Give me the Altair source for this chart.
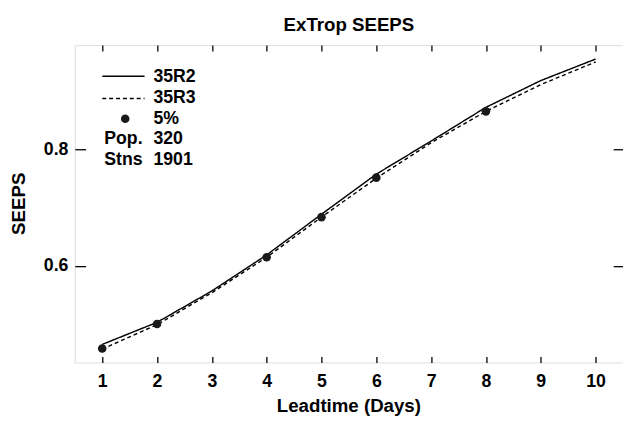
import altair as alt
import pandas as pd

# ---- data ----
days = [1, 2, 3, 4, 5, 6, 7, 8, 9, 10]
seeps_35r2 = [0.465, 0.503, 0.557, 0.619, 0.689, 0.758, 0.815, 0.873, 0.919, 0.956]
seeps_35r3 = [0.457, 0.499, 0.554, 0.615, 0.684, 0.751, 0.812, 0.866, 0.912, 0.951]
sig_days = [1, 2, 4, 5, 6, 8]
sig_vals = [0.458, 0.500, 0.615, 0.684, 0.752, 0.866]
x_ticks = [1, 2, 3, 4, 5, 6, 7, 8, 9, 10]
y_ticks = [0.6, 0.8]
legend_series = ["35R2", "35R3", "5%"]
info_keys = ["Pop.", "Stns"]
info_vals = ["320", "1901"]
title_text = "ExTrop SEEPS"
x_title = "Leadtime (Days)"
y_title = "SEEPS"

FONT = "Liberation Sans"
W, H = 558, 323

lines_df = pd.DataFrame({
    "day": days * 2,
    "seeps": seeps_35r2 + seeps_35r3,
    "exp": ["35R2"] * len(days) + ["35R3"] * len(days),
})
dots_df = pd.DataFrame({"day": sig_days, "seeps": sig_vals})

xscale = alt.Scale(domain=[0.5, 10.5], nice=False, zero=False)
yscale = alt.Scale(domain=[0.434, 0.98], nice=False, zero=False)

axis_common = dict(grid=False, domain=False, tickColor="black", tickWidth=1.3,
                   labelColor="black", labelFont=FONT, labelFontSize=18,
                   labelFontWeight="bold", title=None)

x_bottom = alt.Axis(orient="bottom", values=x_ticks, tickSize=6, offset=-6,
                    labelPadding=10, labelFlush=False, **axis_common)
y_left = alt.Axis(orient="left", values=y_ticks, tickSize=11, offset=-11,
                  labelPadding=7, format=".1f", **axis_common)
x_top = alt.Axis(orient="top", values=x_ticks, tickSize=6, offset=-6,
                 labels=False, title=None, grid=False, domain=False,
                 tickColor="black", tickWidth=1.3)
y_right = alt.Axis(orient="right", values=y_ticks, tickSize=10, offset=-10,
                   labels=False, title=None, grid=False, domain=False,
                   tickColor="black", tickWidth=1.3)

lines = alt.Chart(lines_df).mark_line(color="black", strokeWidth=1.45).encode(
    x=alt.X("day:Q", scale=xscale, axis=x_bottom),
    y=alt.Y("seeps:Q", scale=yscale, axis=y_left),
    strokeDash=alt.StrokeDash("exp:N", scale=alt.Scale(domain=["35R2", "35R3"],
                                                       range=[[1, 0], [4, 3]]),
                              legend=None),
)

dots = alt.Chart(dots_df).mark_circle(color="#1a1a1a", opacity=1, size=76).encode(
    x=alt.X("day:Q", scale=xscale, axis=x_top),
    y=alt.Y("seeps:Q", scale=yscale, axis=y_right),
)


def txt(s, x, y, size=18, align="left", angle=0):
    return alt.Chart(pd.DataFrame({"t": [s]})).mark_text(
        align=align, baseline="alphabetic", font=FONT, fontSize=size,
        fontWeight="bold", color="black", angle=angle).encode(
        text="t:N", x=alt.value(x), y=alt.value(y))


leg_df = pd.DataFrame({"k": [0]})
leg_solid = alt.Chart(leg_df).mark_rule(color="black", strokeWidth=1.45).encode(
    x=alt.value(28), x2=alt.value(71), y=alt.value(31.6))
leg_dash = alt.Chart(leg_df).mark_rule(color="black", strokeWidth=1.45,
                                       strokeDash=[4, 3]).encode(
    x=alt.value(28), x2=alt.value(71), y=alt.value(54.3))
leg_dot = alt.Chart(leg_df).mark_circle(color="#1a1a1a", opacity=1, size=76).encode(
    x=alt.value(51.3), y=alt.value(75))

rows = [37.8, 59.0, 80.2, 101.0, 122.0]
legend_layers = [leg_solid, leg_dash, leg_dot]
for i, s in enumerate(legend_series):
    legend_layers.append(txt(s, 80, rows[i]))
for i, (k, v) in enumerate(zip(info_keys, info_vals)):
    legend_layers.append(txt(k, 30, rows[3 + i]))
    legend_layers.append(txt(v, 80, rows[3 + i]))

titles = [
    txt(title_text, W / 2, -14.4, size=19, align="center"),
    txt(x_title, W / 2, 373.3, size=19, align="center"),
    txt(y_title, -51, H / 2, size=19, align="center", angle=270),
]

chart = alt.layer(lines, dots, *legend_layers, *titles).resolve_axis(
    x="independent", y="independent"
).properties(
    width=W, height=H,
    autosize=alt.AutoSizeParams(type="none"),
    padding={"left": 68, "top": 34, "right": 0, "bottom": 66},
).configure_view(stroke="black", strokeWidth=1.4).configure(background="white")

chart.save("out.html", embed_options={"renderer": "svg", "actions": False})
